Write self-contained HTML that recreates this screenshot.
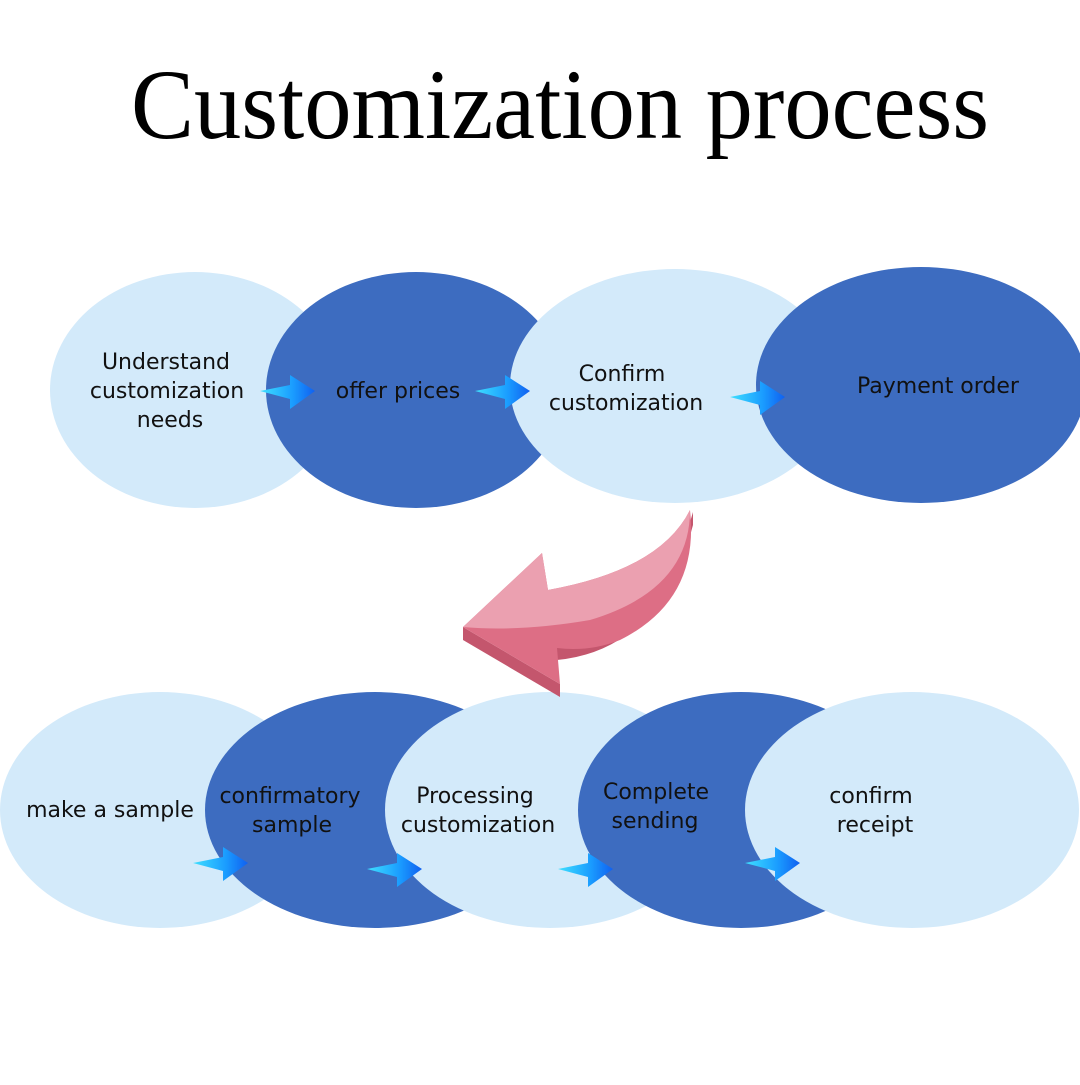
<!DOCTYPE html>
<html><head><meta charset="utf-8"><style>html,body{margin:0;padding:0;background:#fff}</style></head>
<body>
<svg width="1080" height="1080" viewBox="0 0 1080 1080" xmlns="http://www.w3.org/2000/svg">
<defs>
<linearGradient id="ba" x1="0" x2="1" y1="0" y2="0">
<stop offset="0" stop-color="#3fe0ff"/><stop offset="0.6" stop-color="#1a9cff"/><stop offset="1" stop-color="#1060f0"/>
</linearGradient>
<g id="arr"><path d="M0,0 L30,-6 L30,-16 L55,0 L30,18 L30,8 Z" fill="url(#ba)"/></g>
</defs>
<rect width="1080" height="1080" fill="#fff"/>
<text x="560" y="138" font-family="Liberation Serif, serif" font-size="100" text-anchor="middle" textLength="858" lengthAdjust="spacingAndGlyphs" fill="#000">Customization process</text>

<g font-family="DejaVu Sans, Liberation Sans, sans-serif" font-size="22" fill="#111" text-anchor="middle">
<ellipse cx="195" cy="390" rx="145" ry="118" fill="#d3eafa"/>
<ellipse cx="416" cy="390" rx="150" ry="118" fill="#3d6cc0"/>
<ellipse cx="675" cy="386" rx="165" ry="117" fill="#d3eafa"/>
<ellipse cx="921" cy="385" rx="165" ry="118" fill="#3d6cc0"/>
<use href="#arr" x="260" y="391"/>
<use href="#arr" x="475" y="391"/>
<use href="#arr" x="730" y="397"/>
<text x="166" y="369">Understand</text>
<text x="167" y="398">customization</text>
<text x="170" y="427">needs</text>
<text x="398" y="398">offer prices</text>
<text x="622" y="381">Confirm</text>
<text x="626" y="410">customization</text>
<text x="938" y="393">Payment order</text>

<ellipse cx="160" cy="810" rx="160" ry="118" fill="#d3eafa"/>
<ellipse cx="375" cy="810" rx="170" ry="118" fill="#3d6cc0"/>
<ellipse cx="550" cy="810" rx="165" ry="118" fill="#d3eafa"/>
<ellipse cx="741" cy="810" rx="163" ry="118" fill="#3d6cc0"/>
<ellipse cx="912" cy="810" rx="167" ry="118" fill="#d3eafa"/>
<use href="#arr" x="193" y="863"/>
<use href="#arr" x="367" y="869"/>
<use href="#arr" x="558" y="869"/>
<use href="#arr" x="745" y="863"/>
<text x="110" y="817">make a sample</text>
<text x="290" y="803">confirmatory</text>
<text x="292" y="832">sample</text>
<text x="475" y="803">Processing</text>
<text x="478" y="832">customization</text>
<text x="656" y="799">Complete</text>
<text x="655" y="828">sending</text>
<text x="871" y="803">confirm</text>
<text x="875" y="832">receipt</text>
</g>

<path d="M463,627 L463,640 L560,697 L560,684 Z" fill="#c4566d"/>
<path d="M557,660 Q660,650 693,525 L693,512 Q660,630 557,648 Z" fill="#c4566d"/>
<path d="M463,627 L542,553 L548,590 Q660,570 690,510 Q700,600 620,640 Q590,652 557,648 L560,684 Z" fill="#dd6e85"/>
<path d="M463,627 L542,553 L548,590 Q660,570 690,510 Q690,590 590,620 Q520,632 463,627 Z" fill="#eba0b0"/>
</svg>
</body></html>
